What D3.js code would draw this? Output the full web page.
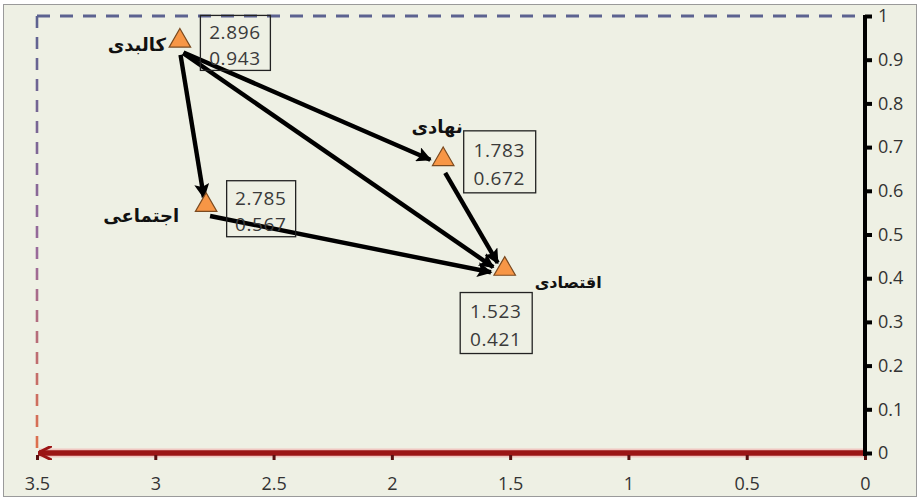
<!DOCTYPE html>
<html><head><meta charset="utf-8">
<script src="https://cdn.jsdelivr.net/npm/d3@7/dist/d3.min.js"></script>
<style>
html,body{margin:0;padding:0;background:#fff;}
svg{display:block;}
</style></head>
<body>
<svg id="chart" width="919" height="499"></svg>
<script>
// ---- data ----
const categories = ["کالبدی", "نهادی", "اجتماعی", "اقتصادی"];
const xValues = [2.896, 1.783, 2.785, 1.523];
const yValues = [0.943, 0.672, 0.567, 0.421];
const links = [ ["کالبدی","اجتماعی"], ["کالبدی","نهادی"], ["کالبدی","اقتصادی"], ["نهادی","اقتصادی"], ["اجتماعی","اقتصادی"] ];
const xTicks = [3.5, 3, 2.5, 2, 1.5, 1, 0.5, 0];
const yTicks = [0, 0.1, 0.2, 0.3, 0.4, 0.5, 0.6, 0.7, 0.8, 0.9, 1];

// ---- label placement (layout only) ----
const boxPlace = { "کالبدی":[20,-26,70,55], "نهادی":[20,-29,72,62], "اجتماعی":[20,-25,69,56], "اقتصادی":[-45,23,72,61] };
const namePlace = { "کالبدی":[-14,10,"end"], "نهادی":[-6,-26,"middle"], "اجتماعی":[-27,17,"end"], "اقتصادی":[30,19,"start"] };

const svg = d3.select("#chart");
const x = d3.scaleLinear().domain([3.5, 0]).range([37, 865]);
const y = d3.scaleLinear().domain([0, 1]).range([453, 16]);
const numFont = "'Open Sans', 'DejaVu Sans', sans-serif";

// background + border
svg.append("rect").attr("x",0).attr("y",0).attr("width",919).attr("height",499).attr("fill","#ffffff");
svg.append("rect").attr("x",3.5).attr("y",4.5).attr("width",913).attr("height",492)
  .attr("fill","#eef0e4").attr("stroke","#9a9a9a").attr("stroke-width",1);

const defs = svg.append("defs");
const grad = defs.append("linearGradient").attr("id","vgrad")
  .attr("gradientUnits","userSpaceOnUse").attr("x1",0).attr("y1",y(1)).attr("x2",0).attr("y2",y(0));
grad.append("stop").attr("offset","0%").attr("stop-color","#5c6290");
grad.append("stop").attr("offset","55%").attr("stop-color","#9a6a9a");
grad.append("stop").attr("offset","100%").attr("stop-color","#e0704a");

defs.append("marker").attr("id","arrowBlack").attr("viewBox","0 0 10 10").attr("refX",9).attr("refY",5)
  .attr("markerWidth",3.8).attr("markerHeight",3.4).attr("markerUnits","strokeWidth").attr("orient","auto")
  .append("path").attr("d","M0,0 L10,5 L0,10 L2,5 Z").attr("fill","#000");
defs.append("marker").attr("id","arrowRed").attr("viewBox","0 0 10 10").attr("refX",9).attr("refY",5)
  .attr("markerWidth",2.6).attr("markerHeight",2.6).attr("markerUnits","strokeWidth").attr("orient","auto")
  .append("path").attr("d","M0,0 L10,5 L0,10").attr("fill","none").attr("stroke","#9b1515").attr("stroke-width",2);

// dashed frame lines
svg.append("line").attr("x1",x(3.5)).attr("x2",x(0)-6).attr("y1",y(1)).attr("y2",y(1))
  .attr("stroke","#5c6290").attr("stroke-width",2.8).attr("stroke-dasharray","13,10");
svg.append("line").attr("x1",x(3.5)).attr("x2",x(3.5)).attr("y1",y(1)).attr("y2",y(0))
  .attr("stroke","url(#vgrad)").attr("stroke-width",2.6).attr("stroke-dasharray","12,9");

// x axis (red, arrow to the left)
svg.append("line").attr("x1",x(0)).attr("x2",x(3.5)+2).attr("y1",y(0)).attr("y2",y(0))
  .attr("stroke","#f2a6a6").attr("stroke-width",9).attr("opacity",0.55);
svg.append("line").attr("x1",x(0)).attr("x2",x(3.5)+2).attr("y1",y(0)).attr("y2",y(0))
  .attr("stroke","#9b1515").attr("stroke-width",5.5).attr("marker-end","url(#arrowRed)");
const xAxis = d3.axisBottom(x).tickValues(xTicks).tickSize(0).tickPadding(24).tickFormat(d3.format("~g"));
const gx = svg.append("g").attr("transform",`translate(0,${y(0)})`).call(xAxis);
gx.select(".domain").remove();
gx.selectAll("text").attr("font-family",numFont).attr("font-size",18).attr("fill","#333");
gx.selectAll(".tick").append("rect").attr("x",-1.5).attr("y",2).attr("width",3).attr("height",5).attr("fill","#5a1010");

// y axis (black, right side)
svg.append("line").attr("x1",x(0)).attr("x2",x(0)).attr("y1",y(1)-1).attr("y2",y(0)+3)
  .attr("stroke","#000").attr("stroke-width",4);
const yAxis = d3.axisRight(y).tickValues(yTicks).tickSize(0).tickPadding(13).tickFormat(d3.format("~g"));
const gy = svg.append("g").attr("transform",`translate(${x(0)},0)`).call(yAxis);
gy.select(".domain").remove();
gy.selectAll("text").attr("font-family",numFont).attr("font-size",18).attr("fill","#333");
gy.selectAll(".tick").append("rect").attr("x",0).attr("y",-2).attr("width",7).attr("height",4).attr("fill","#000");

// points
const pts = categories.map((c,i)=>({name:c, xv:xValues[i], yv:yValues[i], px:x(xValues[i]), py:y(yValues[i])}));
const byName = Object.fromEntries(pts.map(p=>[p.name,p]));

// arrows
const shorten = 14;
links.forEach(([s,t])=>{
  const a = byName[s], b = byName[t];
  const sx = a.px, sy = a.py + 10;
  const tx = b.px, ty = b.py + 6;
  const dx = tx - sx, dy = ty - sy, L = Math.hypot(dx,dy);
  svg.append("line").attr("x1",sx + dx/L*4).attr("y1",sy + dy/L*4)
    .attr("x2",tx - dx/L*shorten).attr("y2",ty - dy/L*shorten)
    .attr("stroke","#000").attr("stroke-width",4.4).attr("marker-end","url(#arrowBlack)");
});

// triangles
const tri = d3.symbol().type(d3.symbolTriangle).size(200);
svg.selectAll("path.pt").data(pts).enter().append("path").attr("class","pt")
  .attr("d",tri).attr("transform",d=>`translate(${d.px},${d.py})`)
  .attr("fill","#f79646").attr("stroke","#7a4a20").attr("stroke-width",1.2);

// value boxes
pts.forEach(p=>{
  const [ox,oy,w,h] = boxPlace[p.name];
  const g = svg.append("g").attr("transform",`translate(${p.px+ox},${p.py+oy})`);
  g.append("rect").attr("x",0.5).attr("y",0.5).attr("width",w).attr("height",h)
    .attr("fill","none").attr("stroke","#222").attr("stroke-width",1.3);
  [[p.xv, h*0.30+8], [p.yv, h*0.76+8]].forEach(([v,ty])=>{
    g.append("text").attr("x",w/2).attr("y",ty).attr("text-anchor","middle")
      .attr("font-family",numFont).attr("font-size",19).attr("letter-spacing",0.6).attr("fill","#3a3a3a")
      .text(d3.format(".3f")(v));
  });
});

// category names
pts.forEach(p=>{
  const [ox,oy,anchor] = namePlace[p.name];
  svg.append("text").attr("x",p.px+ox).attr("y",p.py+oy).attr("text-anchor",anchor)
    .attr("font-family","'DejaVu Sans', 'Noto Sans', sans-serif")
    .attr("font-weight","bold").attr("font-size",p.name === "اقتصادی" ? 16 : 18).attr("fill","#111").text(p.name);
});
</script>
</body></html>
